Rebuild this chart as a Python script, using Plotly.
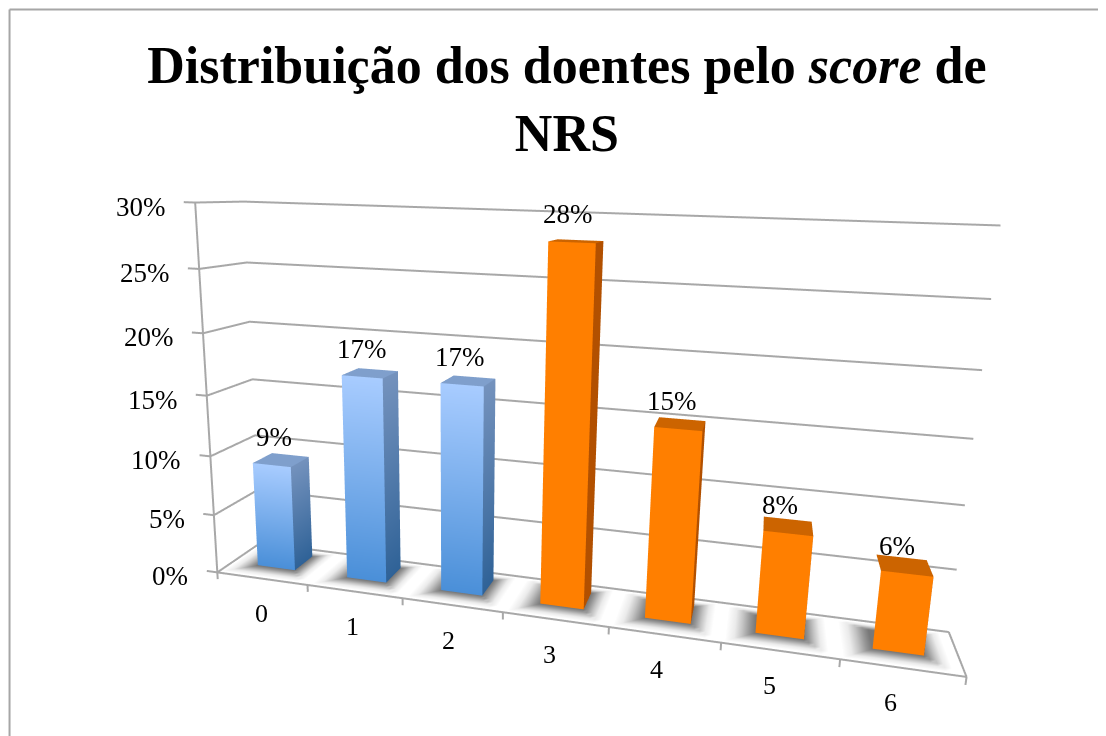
"""Distribuicao dos doentes pelo score de NRS, 3D column chart."""

from __future__ import annotations

import plotly.graph_objects as go

categorias = ["0", "1", "2", "3", "4", "5", "6"]
valores = [9, 17, 17, 28, 15, 8, 6]
grupo_risco = [False, False, False, True, True, True, True]
ticks_y = [0, 5, 10, 15, 20, 25, 30]

FONT = "Liberation Serif"
GRID = "#a8a8a8"
XR = [-0.15, 7.05]
YR = [-0.05, 1.05]
ZR = [-1.0, 31.0]
BAR_M = 0.2893
BAR_Y0 = 0.3429
BAR_Y1 = 0.7959

BLUE = dict(front_top="#a8ccff", front_bot="#4a8fd8", side_top="#7492bd", side_bot="#2f6297", top="#7f9fcc")
ORANGE = dict(front_top="#ff7f00", front_bot="#ff7f00", side_top="#b25000", side_bot="#b25000", top="#cc6400")
FLAT = dict(ambient=1.0, diffuse=0.0, specular=0.0, fresnel=0.0, roughness=1.0)


def bar_mesh(pos: int, value: float, pal: dict) -> go.Mesh3d:
    x0, x1 = pos + BAR_M, pos + 1 - BAR_M
    y0, y1 = BAR_Y0, BAR_Y1
    xs = [x0, x1, x1, x0, x1, x1, x1, x1, x0, x1, x1, x0]
    ys = [y0, y0, y0, y0, y0, y1, y1, y0, y0, y0, y1, y1]
    zs = [0, 0, value, value, 0, 0, value, value, value, value, value, value]
    colors = [
        pal["front_bot"], pal["front_bot"], pal["front_top"], pal["front_top"],
        pal["side_bot"], pal["side_bot"], pal["side_top"], pal["side_top"],
        pal["top"], pal["top"], pal["top"], pal["top"],
    ]
    return go.Mesh3d(
        x=xs, y=ys, z=zs,
        i=[0, 0, 4, 4, 8, 8], j=[1, 2, 5, 6, 9, 10], k=[2, 3, 6, 7, 10, 11],
        vertexcolor=colors, lighting=FLAT, flatshading=True, hoverinfo="skip", showscale=False,
    )


def shadow_mesh(pos: int) -> go.Mesh3d:
    """Soft floor shadow: rings of vertices fading out to the white floor."""
    grow = [0.2, 0.14, 0.09, 0.04, 0.0]
    shade = ["#ffffff", "#ebebeb", "#c4c4c4", "#969696", "#787878"]
    x_l = [pos + BAR_M - 1.3 * g for g in grow]
    x_r = [pos + 1 - BAR_M + g for g in reversed(grow)]
    y_f = [BAR_Y0 - 1.4 * g for g in grow]
    y_b = [BAR_Y1 + 0.8 * g for g in reversed(grow)]
    gx = x_l + x_r
    gy = y_f + y_b
    cols = list(range(len(shade))) + list(reversed(range(len(shade))))
    xs, ys, colors = [], [], []
    for iy, y in enumerate(gy):
        for ix, x in enumerate(gx):
            xs.append(x)
            ys.append(y)
            colors.append(shade[min(cols[ix], cols[iy])])
    n = len(gx)
    ii, jj, kk = [], [], []
    for iy in range(n - 1):
        for ix in range(n - 1):
            a = iy * n + ix
            ii += [a, a]
            jj += [a + 1, a + n + 1]
            kk += [a + n + 1, a + n]
    return go.Mesh3d(
        x=xs, y=ys, z=[-0.03] * len(xs), i=ii, j=jj, k=kk,
        vertexcolor=colors, lighting=FLAT, hoverinfo="skip", showscale=False,
    )


def grid_lines() -> go.Scatter3d:
    xs, ys, zs = [], [], []
    n = len(categorias)
    for t in ticks_y:
        # left wall, back wall and the tick on the value axis
        xs += [-0.12, 0, 0, n, None]
        ys += [0, 0, 1, 1, None]
        zs += [t, t, t, t, None]
    xs += [0, 0, None]
    ys += [0, 0, None]
    zs += [0, 30, None]
    # floor outline
    xs += [0, n, n, None]
    ys += [0, 0, 1, None]
    zs += [0, 0, 0, None]
    for c in range(n + 1):
        xs += [c, c, None]
        ys += [0, 0, None]
        zs += [0, -0.6, None]
    return go.Scatter3d(x=xs, y=ys, z=zs, mode="lines", line=dict(color=GRID, width=4), hoverinfo="skip")


fig = go.Figure()
for pos, v in enumerate(valores):
    fig.add_trace(shadow_mesh(pos))
fig.add_trace(grid_lines())
for pos, v in enumerate(valores):
    fig.add_trace(bar_mesh(pos, v, ORANGE if grupo_risco[pos] else BLUE))

anotacoes = []
for pos, v in enumerate(valores):
    anotacoes.append(dict(x=pos + 0.5, y=BAR_Y0, z=v, text=f"{v}%", showarrow=False,
                          xshift=2 - 2 * pos, yshift=28,
                          font=dict(family=FONT, size=27, color="black")))
    anotacoes.append(dict(x=pos + 0.5, y=0, z=0, text=categorias[pos], showarrow=False,
                          xshift=-2 * pos, yshift=-35,
                          font=dict(family=FONT, size=26, color="black")))
for t in ticks_y:
    anotacoes.append(dict(x=0, y=0, z=t, text=f"{t}%", showarrow=False, xanchor="right",
                          xshift=-27, yshift=-4,
                          font=dict(family=FONT, size=27, color="black")))

fig.update_layout(
    width=1098,
    height=728,
    margin=dict(l=0, r=0, t=0, b=0),
    paper_bgcolor="white",
    showlegend=False,
    title=dict(
        text="Distribuição dos doentes pelo <i>score</i> de<br>NRS",
        x=0.509, xanchor="center", y=0.897, yanchor="top",
        font=dict(family=FONT, size=52, color="black", weight="bold"),
    ),
    scene=dict(
        domain=dict(x=[0, 1], y=[0, 1]),
        xaxis=dict(visible=False, range=XR),
        yaxis=dict(visible=False, range=YR),
        zaxis=dict(visible=False, range=ZR),
        aspectmode="manual",
        aspectratio=dict(x=9.2349, y=1.0965, z=5.0008),
        camera=dict(
            eye=dict(x=2.2073, y=-9.7537, z=2.6385),
            center=dict(x=1.1122, y=-5.1363, z=1.6344),
            up=dict(x=-1.2826, y=5.1839, z=1.0),
            projection=dict(type="perspective"),
        ),
        annotations=anotacoes,
    ),
    shapes=[
        dict(type="line", xref="paper", yref="paper", x0=0.0014, x1=0.0014, y0=0, y1=0.998,
             line=dict(color="#a6a6a6", width=2)),
        dict(type="line", xref="paper", yref="paper", x0=0.0014, x1=1, y0=0.998, y1=0.998,
             line=dict(color="#a6a6a6", width=2)),
    ],
)

fig.write_html("out.html")
